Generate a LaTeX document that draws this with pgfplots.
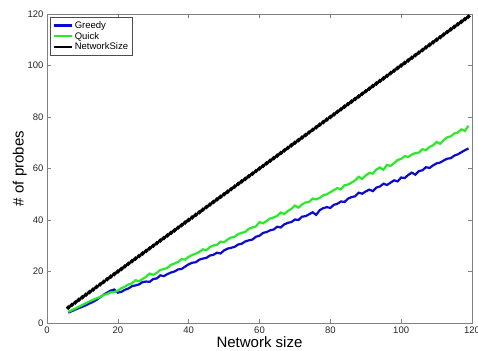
\documentclass[border=0pt]{standalone}
\usepackage{fontspec}
\setmainfont{Liberation Sans}
\usepackage{pgfplots}
\pgfplotsset{compat=1.18}
\definecolor{gblue}{RGB}{10,10,215}
\definecolor{qgreen}{RGB}{40,235,40}
\definecolor{framegray}{RGB}{128,128,128}
\begin{document}
\begin{tikzpicture}
\begin{axis}[name=ax,
  scale only axis, width=425pt, height=309pt,
  xmin=0, xmax=120, ymin=0, ymax=120,
  xtick={0,20,...,120}, ytick={0,20,...,120},
  tick align=inside, tick pos=both,
  major tick length=4pt,
  axis line style={framegray},
  every tick/.style={framegray},
  tick label style={font=\fontsize{9.5}{10}\selectfont, text=black!85},
  /pgf/number format/assume math mode=true,
  xlabel={Network size}, ylabel={\# of probes},
  label style={font=\fontsize{15}{16}\selectfont},
  xlabel style={yshift=3pt},
  ylabel style={yshift=-6pt},
  legend style={at={(rel axis cs:0.008,0.99)}, anchor=north west,
    font=\fontsize{9.5}{10}\selectfont, draw=black!70, inner sep=2pt,
    row sep=-1.5pt},
  legend cell align=left,
  legend image code/.code={\draw[#1] (4pt,0pt) -- (22pt,0pt);},
]
\addplot[gblue, line width=2.2pt] coordinates {
(6,4.0)(7,4.6)(8,5.2)(9,5.8)(10,6.3)(11,6.9)(12,7.6)(13,8.2)(14,9.0)(15,10.0)
(16,11.0)(17,11.8)(18,12.6)(19,13.0)(20,11.8)(21,12.1)(22,12.9)(23,13.4)(24,14.3)(25,14.6)
(26,15.0)(27,15.9)(28,16.1)(29,16.0)(30,17.1)(31,17.3)(32,18.5)(33,18.2)(34,19.0)(35,19.6)
(36,20.0)(37,20.8)(38,21.0)(39,21.9)(40,22.8)(41,23.4)(42,23.6)(43,24.6)(44,25.0)(45,25.3)
(46,26.2)(47,26.5)(48,27.3)(49,27.0)(50,28.2)(51,28.9)(52,29.2)(53,29.6)(54,30.5)(55,30.8)
(56,31.7)(57,32.1)(58,32.4)(59,33.5)(60,33.9)(61,35.0)(62,35.3)(63,36.0)(64,36.3)(65,37.4)
(66,37.1)(67,38.3)(68,38.9)(69,39.2)(70,40.2)(71,40.0)(72,41.3)(73,41.5)(74,42.2)(75,43.0)
(76,42.0)(77,43.8)(78,44.6)(79,45.0)(80,44.7)(81,45.9)(82,46.3)(83,47.2)(84,47.0)(85,48.3)
(86,48.9)(87,49.2)(88,50.6)(89,50.2)(90,51.1)(91,51.8)(92,51.2)(93,52.6)(94,53.0)(95,54.1)
(96,53.6)(97,54.5)(98,55.4)(99,55.0)(100,56.5)(101,56.3)(102,57.5)(103,58.4)(104,57.6)(105,59.0)
(106,59.3)(107,60.5)(108,60.2)(109,61.2)(110,62.0)(111,62.3)(112,63.1)(113,63.8)(114,64.0)(115,65.0)
(116,65.5)(117,66.3)(118,67.1)(119,67.8)
};
\addlegendentry{Greedy}
\addplot[qgreen, line width=2.2pt] coordinates {
(6,4.3)(7,5.0)(8,5.6)(9,6.3)(10,7.0)(11,7.7)(12,8.4)(13,9.0)(14,9.6)(15,10.1)
(16,10.9)(17,11.3)(18,11.9)(19,12.0)(20,12.6)(21,13.5)(22,14.1)(23,15.0)(24,15.4)(25,16.6)
(26,16.2)(27,17.1)(28,18.0)(29,19.2)(30,18.7)(31,19.5)(32,20.6)(33,21.0)(34,21.4)(35,22.6)
(36,23.1)(37,23.7)(38,24.8)(39,24.6)(40,25.7)(41,26.4)(42,26.9)(43,27.6)(44,28.6)(45,28.3)
(46,29.5)(47,30.1)(48,30.4)(49,31.6)(50,31.4)(51,32.4)(52,33.2)(53,33.5)(54,34.6)(55,35.0)
(56,35.4)(57,36.6)(58,37.1)(59,37.5)(60,39.2)(61,38.7)(62,39.6)(63,40.6)(64,41.0)(65,41.6)
(66,42.9)(67,42.3)(68,43.5)(69,44.3)(70,45.6)(71,44.8)(72,46.0)(73,46.8)(74,47.0)(75,48.3)
(76,48.0)(77,48.6)(78,49.6)(79,50.0)(80,50.8)(81,51.6)(82,52.4)(83,51.9)(84,53.5)(85,53.8)
(86,54.5)(87,55.4)(88,56.8)(89,56.0)(90,57.3)(91,58.3)(92,58.0)(93,59.6)(94,60.4)(95,59.5)
(96,61.4)(97,61.0)(98,62.1)(99,63.3)(100,63.7)(101,64.8)(102,64.5)(103,65.4)(104,66.0)(105,66.2)
(106,67.5)(107,67.1)(108,68.4)(109,69.0)(110,70.3)(111,69.6)(112,71.0)(113,72.1)(114,72.5)(115,73.6)
(116,74.0)(117,75.2)(118,74.6)(119,76.6)
};
\addlegendentry{Quick}
\addplot[black, line width=2.2pt, mark=*, mark size=0.9pt] coordinates {
(6,6)(7,7)(8,8)(9,9)(10,10)(11,11)(12,12)(13,13)(14,14)(15,15)
(16,16)(17,17)(18,18)(19,19)(20,20)(21,21)(22,22)(23,23)(24,24)(25,25)
(26,26)(27,27)(28,28)(29,29)(30,30)(31,31)(32,32)(33,33)(34,34)(35,35)
(36,36)(37,37)(38,38)(39,39)(40,40)(41,41)(42,42)(43,43)(44,44)(45,45)
(46,46)(47,47)(48,48)(49,49)(50,50)(51,51)(52,52)(53,53)(54,54)(55,55)
(56,56)(57,57)(58,58)(59,59)(60,60)(61,61)(62,62)(63,63)(64,64)(65,65)
(66,66)(67,67)(68,68)(69,69)(70,70)(71,71)(72,72)(73,73)(74,74)(75,75)
(76,76)(77,77)(78,78)(79,79)(80,80)(81,81)(82,82)(83,83)(84,84)(85,85)
(86,86)(87,87)(88,88)(89,89)(90,90)(91,91)(92,92)(93,93)(94,94)(95,95)
(96,96)(97,97)(98,98)(99,99)(100,100)(101,101)(102,102)(103,103)(104,104)(105,105)
(106,106)(107,107)(108,108)(109,109)(110,110)(111,111)(112,112)(113,113)(114,114)(115,115)
(116,116)(117,117)(118,118)(119,119)
};
\addlegendentry{NetworkSize}
\end{axis}
\pgfresetboundingbox
\path (ax.south west) ++(-47pt,-27pt) rectangle ++(478pt,350pt);
\end{tikzpicture}
\end{document}
